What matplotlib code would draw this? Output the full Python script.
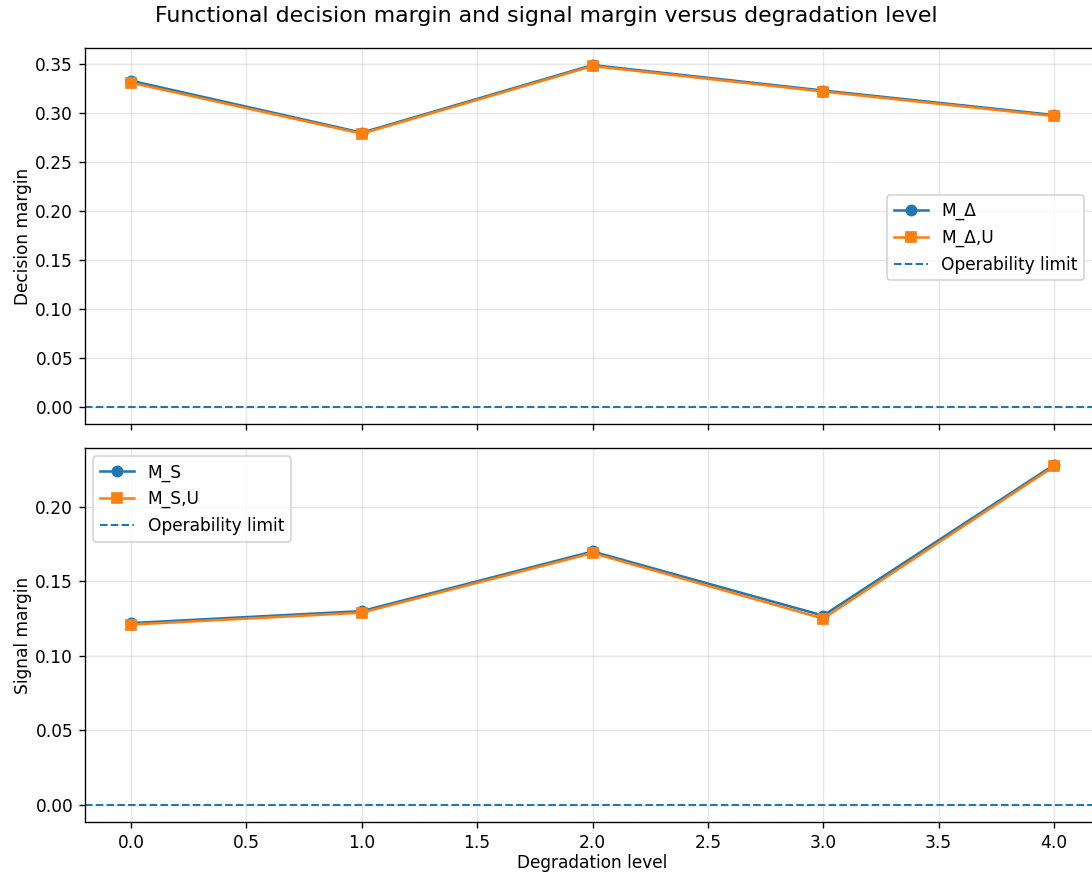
import numpy as np
import matplotlib
matplotlib.use('Agg')
import matplotlib.pyplot as plt

# data
levels = [0, 1, 2, 3, 4]
m_delta = [0.333, 0.280, 0.349, 0.323, 0.298]
m_delta_u = [0.331, 0.279, 0.348, 0.322, 0.297]
m_s = [0.122, 0.130, 0.170, 0.127, 0.228]
m_s_u = [0.121, 0.129, 0.169, 0.125, 0.227]
limit = 0.0

dpi = 122
fig = plt.figure(figsize=(1092 / dpi, 876 / dpi), dpi=dpi)

W, H = 1092, 876
left, right = 85, 1100
ax1 = fig.add_axes([left / W, 1 - 424 / H, (right - left) / W, (424 - 48) / H])
ax2 = fig.add_axes([left / W, 1 - 822 / H, (right - left) / W, (822 - 448) / H], sharex=ax1)

# top: decision margin
ax1.plot(levels, m_delta, marker='o', label='M_Δ')
ax1.plot(levels, m_delta_u, marker='s', label='M_Δ,U')
ax1.axhline(limit, linestyle='--', linewidth=1.2, label='Operability limit')
ax1.set_ylabel('Decision margin', labelpad=2)
ax1.grid(True, alpha=0.3)
ax1.legend(loc='center right', bbox_to_anchor=(0.993, 0.495))
ax1.tick_params(labelbottom=False)

# bottom: signal margin
ax2.plot(levels, m_s, marker='o', label='M_S')
ax2.plot(levels, m_s_u, marker='s', label='M_S,U')
ax2.axhline(limit, linestyle='--', linewidth=1.2, label='Operability limit')
ax2.set_ylabel('Signal margin', labelpad=2)
ax2.set_xlabel('Degradation level', labelpad=1)
ax2.grid(True, alpha=0.3)
ax2.legend(loc='upper left')

fig.suptitle('Functional decision margin and signal margin versus degradation level',
             fontsize=13, y=1 - 6 / H, va='top')

fig.savefig('out.png', dpi=dpi)
